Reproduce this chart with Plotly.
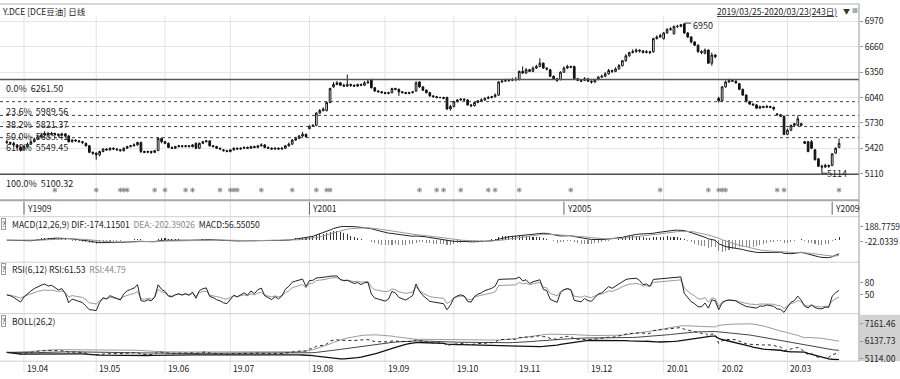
import numpy as np
import pandas as pd
import plotly.graph_objects as go

# ---------------- data ----------------
opens = [
    5500, 5490, 5480, 5460, 5430, 5400, 5440, 5470, 5500, 5530,
    5560, 5580, 5600, 5590, 5600, 5590, 5580, 5590, 5570, 5500,
    5520, 5510, 5500, 5480, 5450, 5370, 5360, 5340, 5380, 5410,
    5400, 5420, 5410, 5400, 5390, 5420, 5440, 5450, 5460, 5490,
    5380, 5370, 5380, 5370, 5390, 5540, 5500, 5480, 5430, 5420,
    5440, 5450, 5440, 5450, 5440, 5480, 5420, 5480, 5500, 5510,
    5450, 5440, 5420, 5400, 5390, 5380, 5400, 5420, 5410, 5420,
    5430, 5420, 5440, 5430, 5450, 5460, 5430, 5420, 5410, 5420,
    5410, 5420, 5450, 5470, 5520, 5540, 5570, 5590, 5660, 5690,
    5700, 5850, 5880, 5880, 5980, 6170, 6200, 6220, 6190, 6180,
    6200, 6190, 6180, 6200, 6190, 6220, 6260, 6160, 6120, 6110,
    6100, 6090, 6100, 6150, 6140, 6110, 6100, 6090, 6100, 6120,
    6230, 6170, 6130, 6100, 6060, 6050, 6040, 6040, 6040, 5900,
    5930, 5990, 6010, 6020, 6010, 5950, 5940, 5980, 6000, 6010,
    6030, 6040, 6050, 6070, 6230, 6240, 6250, 6250, 6260, 6260,
    6360, 6340, 6380, 6360, 6400, 6420, 6460, 6400, 6380, 6300,
    6270, 6260, 6350, 6400, 6420, 6420, 6270, 6250, 6250, 6270,
    6240, 6230, 6260, 6290, 6300, 6330, 6370, 6360, 6390, 6430,
    6490, 6550, 6590, 6600, 6620, 6610, 6590, 6600, 6600, 6760,
    6780, 6760, 6830, 6870, 6820, 6910, 6910, 6940, 6830, 6780,
    6720, 6680, 6600, 6580, 6620, 6460, 6560, 6030, 6000, 6170,
    6230, 6250, 6240, 6210, 6140, 6070, 5990, 5960, 5950, 5910,
    5930, 5920, 5930, 5920, 5840, 5830, 5810, 5590, 5640, 5700,
    5700, 5720, 5500, 5500, 5500, 5400, 5290, 5200, 5190, 5210,
    5210, 5360, 5430,
]
closes = [
    5490, 5480, 5460, 5430, 5400, 5440, 5470, 5500, 5530, 5560,
    5580, 5600, 5590, 5600, 5590, 5580, 5590, 5570, 5500, 5520,
    5510, 5500, 5490, 5450, 5370, 5360, 5340, 5380, 5410, 5400,
    5420, 5410, 5400, 5390, 5420, 5440, 5450, 5460, 5490, 5380,
    5370, 5380, 5370, 5390, 5540, 5500, 5480, 5430, 5420, 5440,
    5450, 5440, 5450, 5440, 5460, 5420, 5480, 5500, 5510, 5450,
    5440, 5420, 5410, 5390, 5380, 5400, 5420, 5410, 5420, 5430,
    5420, 5440, 5430, 5450, 5460, 5430, 5420, 5410, 5420, 5410,
    5420, 5450, 5470, 5520, 5540, 5570, 5590, 5560, 5690, 5700,
    5850, 5880, 5900, 5980, 6150, 6200, 6220, 6190, 6180, 6200,
    6190, 6180, 6200, 6190, 6220, 6230, 6160, 6120, 6110, 6100,
    6090, 6100, 6150, 6140, 6110, 6100, 6090, 6100, 6110, 6220,
    6170, 6130, 6100, 6060, 6050, 6040, 6040, 6030, 5900, 5930,
    5990, 6010, 6020, 6010, 5950, 5940, 5980, 6000, 6010, 6030,
    6040, 6050, 6070, 6230, 6240, 6250, 6250, 6260, 6260, 6360,
    6340, 6380, 6360, 6400, 6420, 6460, 6400, 6390, 6300, 6270,
    6250, 6350, 6400, 6420, 6410, 6270, 6250, 6240, 6270, 6240,
    6230, 6260, 6290, 6300, 6330, 6370, 6360, 6390, 6430, 6490,
    6550, 6590, 6600, 6620, 6610, 6590, 6600, 6590, 6760, 6780,
    6800, 6830, 6870, 6880, 6910, 6910, 6930, 6830, 6780, 6720,
    6680, 6600, 6590, 6620, 6460, 6560, 6540, 6000, 6170, 6230,
    6250, 6240, 6220, 6140, 6070, 5990, 5960, 5950, 5910, 5930,
    5920, 5930, 5920, 5900, 5830, 5810, 5590, 5640, 5700, 5720,
    5780, 5700, 5480, 5380, 5420, 5280, 5200, 5190, 5210, 5200,
    5350, 5420, 5480,
]
highs = [
    5520, 5500, 5500, 5470, 5450, 5460, 5490, 5520, 5550, 5580,
    5610, 5630, 5620, 5620, 5610, 5600, 5610, 5600, 5580, 5530,
    5530, 5520, 5510, 5490, 5460, 5380, 5370, 5390, 5420, 5420,
    5430, 5430, 5420, 5410, 5430, 5450, 5460, 5480, 5500, 5500,
    5390, 5390, 5390, 5400, 5550, 5550, 5510, 5490, 5440, 5450,
    5460, 5460, 5460, 5460, 5470, 5490, 5490, 5510, 5520, 5510,
    5460, 5450, 5430, 5410, 5400, 5410, 5430, 5430, 5430, 5440,
    5440, 5450, 5450, 5460, 5480, 5470, 5440, 5430, 5430, 5430,
    5430, 5460, 5490, 5530, 5560, 5580, 5620, 5600, 5700, 5710,
    5860, 5900, 5920, 5990, 6160, 6230, 6240, 6230, 6210, 6320,
    6210, 6200, 6210, 6210, 6240, 6260, 6270, 6170, 6130, 6120,
    6110, 6110, 6160, 6160, 6150, 6120, 6110, 6110, 6120, 6240,
    6240, 6180, 6140, 6110, 6070, 6060, 6050, 6050, 6050, 5950,
    6000, 6020, 6030, 6030, 6020, 5960, 5990, 6010, 6030, 6040,
    6060, 6060, 6090, 6240, 6260, 6270, 6270, 6280, 6290, 6370,
    6420, 6400, 6390, 6420, 6440, 6520, 6470, 6410, 6390, 6310,
    6280, 6360, 6420, 6440, 6430, 6430, 6280, 6260, 6290, 6280,
    6250, 6270, 6300, 6320, 6350, 6390, 6380, 6410, 6450, 6500,
    6570, 6600, 6630, 6640, 6630, 6620, 6620, 6610, 6770, 6800,
    6820, 6840, 6890, 6900, 6920, 6930, 6940, 6950, 6840, 6790,
    6730, 6690, 6620, 6640, 6630, 6590, 6570, 6050, 6180, 6250,
    6270, 6260, 6250, 6220, 6150, 6080, 6000, 5970, 5960, 5940,
    5940, 5950, 5940, 5930, 5850, 5840, 5820, 5660, 5710, 5730,
    5820, 5730, 5510, 5510, 5520, 5410, 5300, 5220, 5230, 5220,
    5360, 5430, 5540,
]
lows = [
    5470, 5460, 5440, 5400, 5380, 5390, 5430, 5460, 5490, 5520,
    5550, 5570, 5570, 5580, 5570, 5560, 5570, 5550, 5490, 5490,
    5500, 5490, 5470, 5440, 5360, 5340, 5280, 5320, 5370, 5390,
    5390, 5400, 5390, 5380, 5380, 5410, 5430, 5440, 5450, 5360,
    5360, 5360, 5350, 5360, 5390, 5480, 5470, 5420, 5410, 5410,
    5430, 5430, 5430, 5430, 5430, 5410, 5410, 5470, 5490, 5440,
    5430, 5410, 5400, 5380, 5370, 5370, 5390, 5400, 5400, 5410,
    5410, 5410, 5420, 5420, 5440, 5420, 5410, 5400, 5400, 5400,
    5400, 5410, 5440, 5460, 5510, 5530, 5560, 5550, 5650, 5680,
    5690, 5840, 5870, 5870, 5970, 6160, 6190, 6180, 6170, 6170,
    6170, 6170, 6170, 6180, 6180, 6210, 6150, 6110, 6100, 6090,
    6080, 6080, 6090, 6130, 6060, 6090, 6080, 6080, 6090, 6110,
    6160, 6120, 6090, 6050, 6040, 6030, 6030, 6020, 5890, 5880,
    5920, 5980, 6000, 6000, 5940, 5920, 5930, 5970, 5990, 6000,
    6020, 6030, 6040, 6060, 6220, 6230, 6230, 6240, 6240, 6250,
    6330, 6330, 6350, 6350, 6390, 6410, 6390, 6370, 6290, 6260,
    6230, 6250, 6340, 6390, 6400, 6260, 6240, 6230, 6240, 6230,
    6210, 6220, 6250, 6280, 6290, 6320, 6340, 6350, 6380, 6420,
    6480, 6540, 6580, 6590, 6590, 6580, 6580, 6570, 6590, 6750,
    6770, 6750, 6820, 6860, 6810, 6890, 6900, 6820, 6770, 6700,
    6670, 6590, 6570, 6570, 6450, 6430, 6520, 5980, 5990, 6160,
    6220, 6230, 6210, 6130, 6060, 5980, 5950, 5940, 5900, 5900,
    5910, 5910, 5910, 5880, 5820, 5800, 5580, 5580, 5630, 5690,
    5690, 5690, 5470, 5370, 5410, 5270, 5190, 5114, 5180, 5180,
    5200, 5350, 5420,
]

month_idx = [5, 26, 46, 65, 88, 110, 130, 148, 169, 191, 207, 227]
month_labels = ["19.04", "19.05", "19.06", "19.07", "19.08", "19.09",
                "19.10", "19.11", "19.12", "20.01", "20.02", "20.03"]
contract_idx = [5, 88, 162, 240]
contract_labels = ["Y1909", "Y2001", "Y2005", "Y2009"]
signal_idx = [14, 26, 33, 34, 35, 43, 46, 52, 54, 62, 65, 66, 67, 74, 83,
              90, 93, 94, 120, 125, 127, 132, 140, 142, 149, 164, 190,
              204, 207, 208, 209, 224, 226, 242]
fib_pct = ["0.0%", "23.6%", "38.2%", "50.0%", "61.8%", "100.0%"]
fib_val = [6261.50, 5989.56, 5821.37, 5685.41, 5549.45, 5100.32]
main_ticks = [6970, 6660, 6350, 6040, 5730, 5420, 5110]
macd_ticks = [188.7759, -22.0339]
rsi_ticks = [80, 50]
boll_ticks = [7161.46, 6137.73, 5114.00]

title_left = "Y.DCE [DCE豆油] 日线"
title_right = "2019/03/25-2020/03/23(243日)"
macd_head = ("MACD(12,26,9) DIF:-174.11501  "
             "<span style='color:#888'>DEA:-202.39026</span>  MACD:56.55050")
rsi_head = "RSI(6,12) RSI:61.53  <span style='color:#888'>RSI:44.79</span>"
boll_head = "BOLL(26,2)"

# ---------------- indicators ----------------
idx = list(range(len(closes)))
c = pd.Series(closes, dtype=float)
ema12 = c.ewm(span=12, adjust=False).mean()
ema26 = c.ewm(span=26, adjust=False).mean()
dif = ema12 - ema26
dea = dif.ewm(span=9, adjust=False).mean()
hist = 2 * (dif - dea)

chg = c.diff().fillna(0).to_numpy()
seed = float(np.mean(np.abs(chg[1:11])))   # warm-up level from the first changes
def rsi(n):
    a = b = seed
    out = []
    for v in chg:
        a += (max(v, 0) - a) / n
        b += (max(-v, 0) - b) / n
        out.append(100 * a / (a + b) if a + b > 0 else 50)
    return out
rsi6, rsi12 = rsi(6), rsi(12)

mid = c.rolling(26, min_periods=1).mean()
sd = c.rolling(26, min_periods=1).std(ddof=0).fillna(0)
bup, blo = mid + 2 * sd, mid - 2 * sd

# ---------------- layout helpers ----------------
W, H = 900, 379
PR = 859.0
def px(x):
    return x / PR
def py(y):
    return 1 - y / H

FONT = "Noto Sans CJK SC, Open Sans, sans-serif"
TXT = "#222"
FS = 8.5

fig = go.Figure()
fig.add_trace(go.Candlestick(
    x=idx, open=opens, high=highs, low=lows, close=closes,
    increasing=dict(line=dict(color="#111", width=1), fillcolor="#ffffff"),
    decreasing=dict(line=dict(color="#111", width=1), fillcolor="#111111"),
    whiskerwidth=0, xaxis="x", yaxis="y", showlegend=False, hoverinfo="skip"))

SIGNAL_ROW = 4909
fig.add_trace(go.Scatter(
    x=signal_idx, y=[SIGNAL_ROW] * len(signal_idx), mode="markers",
    marker=dict(symbol="asterisk-open", size=4, color="#888", line=dict(color="#888", width=1)),
    xaxis="x", yaxis="y", showlegend=False, hoverinfo="skip"))

# MACD
fig.add_trace(go.Bar(x=idx, y=hist, width=0.3,
                     marker=dict(color=["#333" if v >= 0 else "#888" for v in hist], line=dict(width=0)),
                     xaxis="x", yaxis="y2", showlegend=False, hoverinfo="skip"))
fig.add_trace(go.Scatter(x=idx, y=dif, mode="lines", line=dict(color="#222", width=1),
                         xaxis="x", yaxis="y2", showlegend=False, hoverinfo="skip"))
fig.add_trace(go.Scatter(x=idx, y=dea, mode="lines", line=dict(color="#999", width=1),
                         xaxis="x", yaxis="y2", showlegend=False, hoverinfo="skip"))
# RSI
fig.add_trace(go.Scatter(x=idx, y=rsi12, mode="lines", line=dict(color="#999", width=1),
                         xaxis="x", yaxis="y3", showlegend=False, hoverinfo="skip"))
fig.add_trace(go.Scatter(x=idx, y=rsi6, mode="lines", line=dict(color="#222", width=1),
                         xaxis="x", yaxis="y3", showlegend=False, hoverinfo="skip"))
# BOLL
fig.add_trace(go.Scatter(x=idx, y=bup, mode="lines", line=dict(color="#9a9a9a", width=1),
                         xaxis="x", yaxis="y4", showlegend=False, hoverinfo="skip"))
fig.add_trace(go.Scatter(x=idx, y=mid, mode="lines", line=dict(color="#444", width=1),
                         xaxis="x", yaxis="y4", showlegend=False, hoverinfo="skip"))
fig.add_trace(go.Scatter(x=idx, y=blo, mode="lines", line=dict(color="#111", width=1.3),
                         xaxis="x", yaxis="y4", showlegend=False, hoverinfo="skip"))
fig.add_trace(go.Scatter(x=idx, y=closes, mode="lines", line=dict(color="#222", width=1, dash="dot"),
                         xaxis="x", yaxis="y4", showlegend=False, hoverinfo="skip"))

shapes = []
annotations = []

# fib lines + labels
for p, v in zip(fib_pct, fib_val):
    solid = p in ("0.0%", "100.0%")
    shapes.append(dict(type="line", xref="paper", yref="y", x0=0, x1=1, y0=v, y1=v,
                       line=dict(color="#555" if solid else "#444", width=1.5 if solid else 1,
                                 dash="solid" if solid else "dot")))
    annotations.append(dict(xref="paper", yref="y", x=px(4), y=v, xanchor="left", yanchor="top",
                            text=f"{p}  {v:.2f}", showarrow=False, yshift=-1,
                            font=dict(size=9, color=TXT, family=FONT)))

# month gridlines and labels
for m, lab in zip(month_idx, month_labels):
    shapes.append(dict(type="line", xref="x", yref="paper", x0=m, x1=m, y0=py(376), y1=py(15),
                       line=dict(color="#e2e2e2", width=1), layer="below"))
    annotations.append(dict(xref="x", yref="paper", x=m, y=py(371), xanchor="left", yanchor="middle",
                            xshift=1, text=lab, showarrow=False,
                            font=dict(size=FS, color=TXT, family=FONT)))

# contract strip
for m, lab in zip(contract_idx, contract_labels):
    shapes.append(dict(type="line", xref="x", yref="paper", x0=m, x1=m, y0=py(216), y1=py(203),
                       line=dict(color="#666", width=1)))
    annotations.append(dict(xref="x", yref="paper", x=m, y=py(209.5), xanchor="left", yanchor="middle",
                            xshift=1, text=lab, showarrow=False,
                            font=dict(size=FS, color=TXT, family=FONT)))

# extreme annotations (from data)
imax = int(np.argmax(highs))
imin = int(np.argmin(lows))
shapes.append(dict(type="line", xref="x", yref="y", x0=imax, x1=imax + 2, y0=highs[imax], y1=highs[imax],
                   line=dict(color="#333", width=1)))
annotations.append(dict(xref="x", yref="y", x=imax + 2, y=highs[imax], xanchor="left", yanchor="middle",
                        yshift=-2, text=f"{highs[imax]}", showarrow=False,
                        font=dict(size=9, color=TXT, family=FONT)))
shapes.append(dict(type="line", xref="x", yref="y", x0=imin, x1=imin + 1.5, y0=lows[imin], y1=lows[imin],
                   line=dict(color="#333", width=1)))
annotations.append(dict(xref="x", yref="y", x=imin + 0.8, y=lows[imin], xanchor="left", yanchor="middle",
                        text=f"{lows[imin]}", showarrow=False, font=dict(size=9, color=TXT, family=FONT)))

# separators / frame
for yy, col, wd in [(3, "#b0b0b0", 1), (201.5, "#a8a8a8", 2), (218, "#cfcfcf", 1),
                    (264, "#cfcfcf", 1), (316, "#cfcfcf", 1), (364, "#cfcfcf", 1)]:
    shapes.append(dict(type="line", xref="paper", yref="paper", x0=0, x1=1, y0=py(yy), y1=py(yy),
                       line=dict(color=col, width=wd)))
shapes.append(dict(type="line", xref="paper", yref="paper", x0=1, x1=1, y0=py(364), y1=py(3),
                   line=dict(color="#999", width=1)))
# grey box behind BOLL scale
shapes.append(dict(type="rect", xref="paper", yref="paper", x0=1.001, x1=px(900), y0=py(364), y1=py(317),
                   fillcolor="#d2d2d2", line=dict(width=0), layer="below"))

# headers
annotations.append(dict(xref="paper", yref="paper", x=px(0), y=py(10), xanchor="left", yanchor="middle",
                        text=title_left, showarrow=False, font=dict(size=FS, color=TXT, family=FONT)))
annotations.append(dict(xref="paper", yref="paper", x=px(839), y=py(10), xanchor="right", yanchor="middle",
                        text=f"<u>{title_right}</u>", showarrow=False, font=dict(size=FS, color=TXT, family=FONT)))
annotations.append(dict(xref="paper", yref="paper", x=px(841), y=py(10), xanchor="left", yanchor="middle",
                        text="▼", showarrow=False, font=dict(size=7, color="#333", family=FONT)))
annotations.append(dict(xref="paper", yref="paper", x=px(850), y=py(10), xanchor="left", yanchor="middle",
                        text="■", showarrow=False, font=dict(size=6, color="#aaa", family=FONT)))
for yy, txt in [(225, macd_head), (271, rsi_head), (323, boll_head)]:
    annotations.append(dict(xref="paper", yref="paper", x=px(1), y=py(yy), xanchor="left", yanchor="middle",
                            text="?", showarrow=False, bordercolor="#999", borderwidth=1, borderpad=0,
                            font=dict(size=7, color=TXT, family=FONT)))
    annotations.append(dict(xref="paper", yref="paper", x=px(10), y=py(yy), xanchor="left", yanchor="middle",
                            text=txt, showarrow=False, font=dict(size=FS, color=TXT, family=FONT)))

def yax(dom_px, rng, ticks, texts, grid=False):
    return dict(domain=[py(dom_px[1]), py(dom_px[0])], range=rng, side="right", anchor="x",
                tickvals=ticks, ticktext=texts, ticks="outside", ticklen=3, tickcolor="#999",
                tickfont=dict(size=FS, color=TXT, family=FONT), showgrid=grid, gridcolor="#e6e6e6",
                zeroline=False, showline=False, fixedrange=True)

fig.update_layout(
    width=W, height=H, margin=dict(l=0, r=W - PR, t=0, b=0),
    paper_bgcolor="white", plot_bgcolor="white", showlegend=False, bargap=0,
    xaxis=dict(domain=[0, 1], range=[-1.98, 247.8], showticklabels=False, showgrid=False,
               zeroline=False, showline=False, ticks="", rangeslider=dict(visible=False),
               fixedrange=True),
    yaxis=yax((15, 200), [4800.5, 7039], main_ticks, [str(t) for t in main_ticks], grid=True),
    yaxis2=yax((218, 264), [-313, 333.5], macd_ticks, [f"{t:.4f}" for t in macd_ticks]),
    yaxis3=yax((264, 316), [2.5, 132.5], rsi_ticks, [str(t) for t in rsi_ticks]),
    yaxis4=yax((316, 364), [4982, 7735], boll_ticks, [f"{t:.2f}" for t in boll_ticks]),
    shapes=shapes, annotations=annotations,
)

fig.write_html("out.html", config={"displayModeBar": False, "staticPlot": True},
               post_script="document.body.style.margin='0';document.body.style.overflow='hidden';")
